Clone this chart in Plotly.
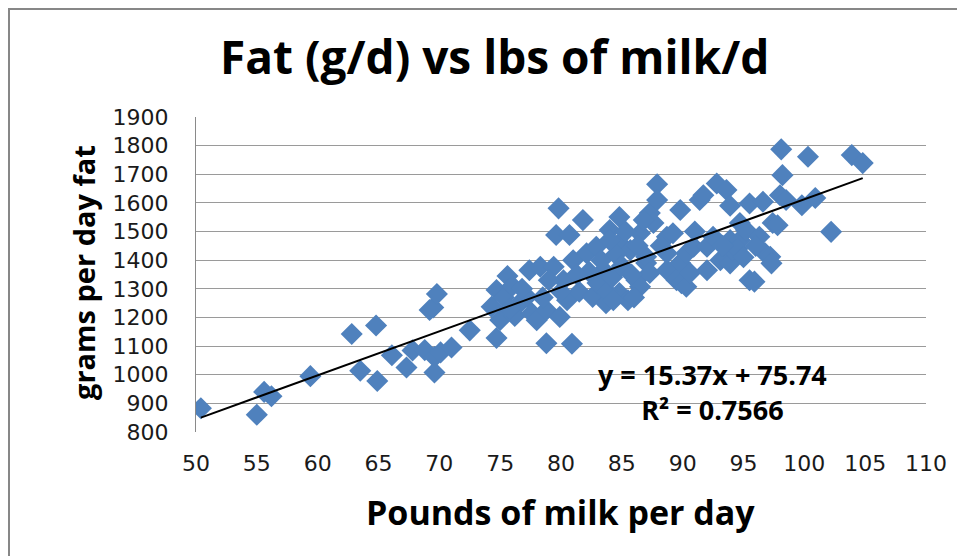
import plotly.graph_objects as go

# Data (Pounds of milk per day, grams per day fat)
milk_lbs = [50.4, 55.0, 55.6, 56.2, 59.4, 62.8, 63.5, 64.8, 64.9, 66.1, 67.3, 67.8, 68.8, 69.2, 69.5,
            69.8, 69.6, 69.6, 70.1, 71.0, 72.5,
            74.3, 74.7, 75.0, 74.7, 75.6, 75.3, 76.0, 76.6, 76.2, 77.2, 77.4, 77.6, 78.0, 78.3, 78.8,
            78.8, 79.4, 79.9, 80.2, 79.8, 79.6, 80.7, 80.9, 81.0, 80.5, 81.5, 81.8, 82.1, 82.6, 82.9,
            83.5, 83.7, 84.0, 84.8, 84.8, 84.8, 85.7, 85.5, 86.2, 86.5, 86.5, 87.0, 87.0, 87.3, 87.6,
            87.9, 87.9, 87.3, 88.7, 88.7, 88.7, 89.2, 89.5, 89.8, 89.8, 89.9, 90.3, 90.3, 90.6, 90.9,
            91.4, 91.7, 92.0, 92.0, 92.5, 92.8, 93.1, 93.6, 93.6, 93.9, 93.9, 93.9, 94.1, 94.7, 94.7,
            95.2, 95.5, 95.5, 95.9, 96.3, 96.6, 96.75, 97.2, 97.3, 97.4, 97.8, 98.0, 98.1, 98.2, 98.5,
            99.8, 100.3, 100.9, 102.2, 103.9, 104.8,
            83.0, 83.3, 83.8, 84.2, 84.5, 85.0, 85.3, 85.8, 86.0, 86.3, 84.3, 82.3, 81.3, 76.8, 78.5,
            80.0, 88.2, 91.0, 96.0, 84.0, 79.0, 75.8, 86.8, 94.5, 95.0, 93.3]
fat_g = [883, 860, 940, 925, 995, 1142, 1014, 1172, 978, 1068, 1025, 1085, 1086, 1226, 1235,
         1282, 1062, 1008, 1078, 1095, 1155,
         1237, 1296, 1191, 1128, 1345, 1270, 1310, 1250, 1205, 1272, 1365, 1215, 1190, 1377, 1226,
         1110, 1377, 1202, 1330, 1581, 1488, 1488, 1108, 1400, 1260, 1290, 1540, 1424, 1272, 1447,
         1365, 1250, 1505, 1460, 1551, 1285, 1435, 1260, 1330, 1494, 1307, 1390, 1412, 1565, 1530,
         1665, 1610, 1355, 1365, 1482, 1424, 1494, 1330, 1575, 1390, 1320, 1424, 1307, 1355, 1447,
         1610, 1627, 1447, 1365, 1482, 1668, 1400, 1645, 1412, 1590, 1470, 1389, 1435, 1530, 1470,
         1505, 1598, 1330, 1325, 1482, 1604, 1425, 1412, 1389, 1530, 1522, 1627, 1787, 1697, 1610,
         1592, 1761, 1617, 1499, 1767, 1739,
         1320, 1400, 1290, 1340, 1420, 1380, 1500, 1350, 1270, 1450, 1260, 1360, 1350, 1300, 1270,
         1290, 1450, 1500, 1450, 1470, 1330, 1230, 1540, 1440, 1410, 1450]

# Linear trend line shown on the chart
trend_slope = 15.37
trend_intercept = 75.74
equation_text = "y = 15.37x + 75.74"
r2_text = "R² = 0.7566"

x_ticks = [50, 55, 60, 65, 70, 75, 80, 85, 90, 95, 100, 105, 110]
y_ticks = [800, 900, 1000, 1100, 1200, 1300, 1400, 1500, 1600, 1700, 1800, 1900]

trend_x = [min(milk_lbs), max(milk_lbs)]
trend_y = [trend_slope * v + trend_intercept for v in trend_x]

FONT = "Open Sans, DejaVu Sans, sans-serif"
TICKFONT = "DejaVu Sans, sans-serif"

fig = go.Figure()
fig.add_trace(go.Scatter(
    x=milk_lbs, y=fat_g, mode="markers",
    marker=dict(symbol="diamond", size=17, color="#4F81BD", line=dict(width=0)),
    showlegend=False, hoverinfo="x+y"))
fig.add_trace(go.Scatter(
    x=trend_x, y=trend_y, mode="lines",
    line=dict(color="black", width=2), showlegend=False, hoverinfo="skip"))

# page has an 8px body margin: figure is placed at (8, 8)
OFF = 8
W, H = 965 - OFF, 556 - OFF
L, R, T, B = 196 - OFF, 39, 117 - OFF, 124
pw, ph = W - L - R, H - T - B

def px_x(px):  # page pixel -> paper
    return (px - OFF - L) / pw

def px_y(py):
    return (H - B - (py - OFF)) / ph

fig.update_layout(
    width=W, height=H,
    margin=dict(l=L, r=R, t=T, b=B, pad=0),
    paper_bgcolor="white", plot_bgcolor="white",
    font=dict(family=FONT, color="black"),
    xaxis=dict(range=[50, 110], tickvals=x_ticks, ticktext=[str(v) for v in x_ticks],
               showgrid=False, zeroline=False, showline=False, ticks="",
               tickfont=dict(size=22, color="#1a1a1a", family=TICKFONT), ticklabelstandoff=16),
    yaxis=dict(range=[800, 1900], tickvals=y_ticks, ticktext=[str(v) for v in y_ticks],
               showgrid=True, gridcolor="#9a9a9a", gridwidth=1, zeroline=False,
               showline=True, linecolor="#8a8a8a", linewidth=1, ticks="",
               tickfont=dict(size=22, color="#1a1a1a", family=TICKFONT), ticklabelstandoff=22),
    shapes=[dict(type="rect", xref="paper", yref="paper",
                 x0=px_x(9), x1=px_x(1000), y0=px_y(600), y1=px_y(9),
                 line=dict(color="#878787", width=2), fillcolor="rgba(0,0,0,0)", layer="below")],
    annotations=[
        dict(text="<b>Fat (g/d) vs lbs of milk/d</b>", xref="paper", yref="paper",
             x=px_x(494), y=px_y(56), xanchor="center", yanchor="middle", showarrow=False,
             font=dict(size=46, color="black", family=FONT)),
        dict(text="<b>grams per day fat</b>", xref="paper", yref="paper", textangle=-90,
             x=px_x(83), y=px_y(273), xanchor="center", yanchor="middle", showarrow=False,
             font=dict(size=29, color="black", family=FONT)),
        dict(text="<b>Pounds of milk per day</b>", xref="paper", yref="paper",
             x=px_x(560), y=px_y(512), xanchor="center", yanchor="middle", showarrow=False,
             font=dict(size=34, color="black", family=FONT)),
        dict(text="<b>" + equation_text + "<br>" + r2_text + "</b>", xref="paper", yref="paper",
             x=px_x(712), y=px_y(392), xanchor="center", yanchor="middle", showarrow=False,
             align="center", font=dict(size=27, color="black", family=FONT)),
    ],
)

fig.write_html("out.html")
